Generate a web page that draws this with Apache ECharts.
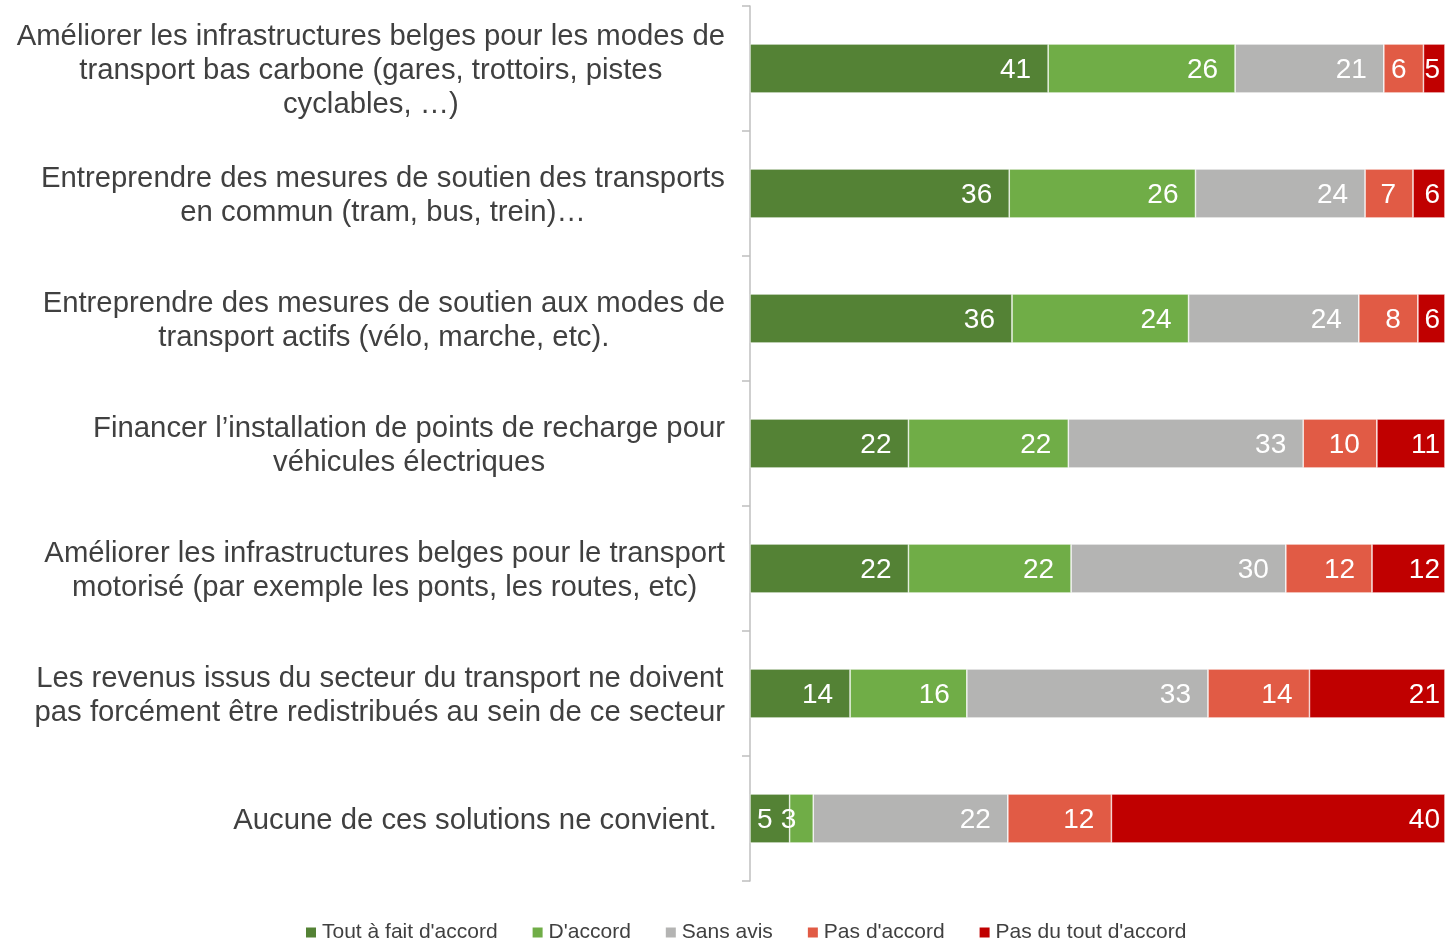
<!DOCTYPE html>
<html>
<head>
<meta charset="utf-8">
<script src="https://cdn.jsdelivr.net/npm/echarts@6/dist/echarts.min.js"></script>
<style>
  html, body { margin: 0; padding: 0; background: #ffffff; }
  #chart { width: 1445px; height: 940px; }
</style>
</head>
<body>
<div id="chart"></div>
<script>
// Categories (top to bottom)
const categories = [
  "Améliorer les infrastructures belges pour les modes de\ntransport bas carbone (gares, trottoirs, pistes\ncyclables, …)",
  "Entreprendre des mesures de soutien des transports\nen commun (tram, bus, trein)…",
  "Entreprendre des mesures de soutien aux modes de\ntransport actifs (vélo, marche, etc).",
  "Financer l’installation de points de recharge pour\nvéhicules électriques",
  "Améliorer les infrastructures belges pour le transport\nmotorisé (par exemple les ponts, les routes, etc)",
  "Les revenus issus du secteur du transport ne doivent\npas forcément être redistribués au sein de ce secteur",
  "Aucune de ces solutions ne convient. "
];

const seriesNames = ["Tout à fait d'accord", "D'accord", "Sans avis", "Pas d'accord", "Pas du tout d'accord"];

// Printed values (data labels)
const labelToutAFait = [41, 36, 36, 22, 22, 14, 5];
const labelDaccord   = [26, 26, 24, 22, 22, 16, 3];
const labelSansAvis  = [21, 24, 24, 33, 30, 33, 22];
const labelPasDacc   = [6, 7, 8, 10, 12, 14, 12];
const labelPasDuTout = [5, 6, 6, 11, 12, 21, 40];

// Bar widths as share of the full bar (%)
const shareToutAFait = [42.9, 37.3, 37.7, 22.8, 22.8, 14.4, 5.7];
const shareDaccord   = [26.9, 26.8, 25.4, 23.0, 23.4, 16.8, 3.4];
const shareSansAvis  = [21.4, 24.4, 24.5, 33.8, 30.9, 34.7, 28.0];
const sharePasDacc   = [5.7, 6.9, 8.5, 10.6, 12.4, 14.6, 14.9];
const sharePasDuTout = [3.1, 4.6, 3.9, 9.8, 10.5, 19.5, 48.0];

const colors = ['#548235', '#70AD47', '#B4B4B3', '#E15B45', '#C00000'];

const shares = [shareToutAFait, shareDaccord, shareSansAvis, sharePasDacc, sharePasDuTout];
const labels = [labelToutAFait, labelDaccord, labelSansAvis, labelPasDacc, labelPasDuTout];

const FONT = "'Liberation Sans', Arial, sans-serif";

const series = seriesNames.map((name, s) => ({
  name: name,
  type: 'bar',
  stack: 'total',
  barWidth: 49,
  itemStyle: { color: colors[s], borderColor: '#ffffff', borderWidth: 0.6 },
  label: {
    show: true,
    position: 'insideRight',
    distance: s === 4 ? 5 : 17,
    offset: [0, 2],
    color: '#ffffff',
    fontSize: 28,
    fontFamily: FONT,
    formatter: (p) => String(labels[s][p.dataIndex])
  },
  data: shares[s]
}));

const chart = echarts.init(document.getElementById('chart'), null, { renderer: 'canvas' });
chart.setOption({
  animation: false,
  backgroundColor: '#ffffff',
  grid: { left: 750, right: 0, top: 6, bottom: 59, containLabel: false },
  xAxis: {
    type: 'value', min: 0, max: 100, show: false
  },
  yAxis: {
    type: 'category',
    inverse: true,
    data: categories,
    axisLine: { show: true, lineStyle: { color: '#BFBFBF', width: 1.5 } },
    axisTick: { show: true, length: 8, lineStyle: { color: '#BFBFBF', width: 1.5 } },
    splitLine: { show: false },
    axisLabel: {
      interval: 0,
      margin: 25,
      align: 'right',
      padding: [5, 0, 0, 0],
      formatter: (v) => v.split('\n').map(l => '{c|' + l + '}').join('\n'),
      rich: {
        c: { align: 'center', fontSize: 29.3, lineHeight: 33.8, color: '#404040', fontFamily: FONT }
      }
    }
  },
  legend: {
    data: seriesNames,
    left: 299,
    top: 917,
    icon: 'rect',
    itemWidth: 12,
    itemHeight: 12,
    itemGap: 33,
    textStyle: { fontSize: 21, color: '#404040', fontFamily: FONT }
  },
  series: series
});
</script>
</body>
</html>
